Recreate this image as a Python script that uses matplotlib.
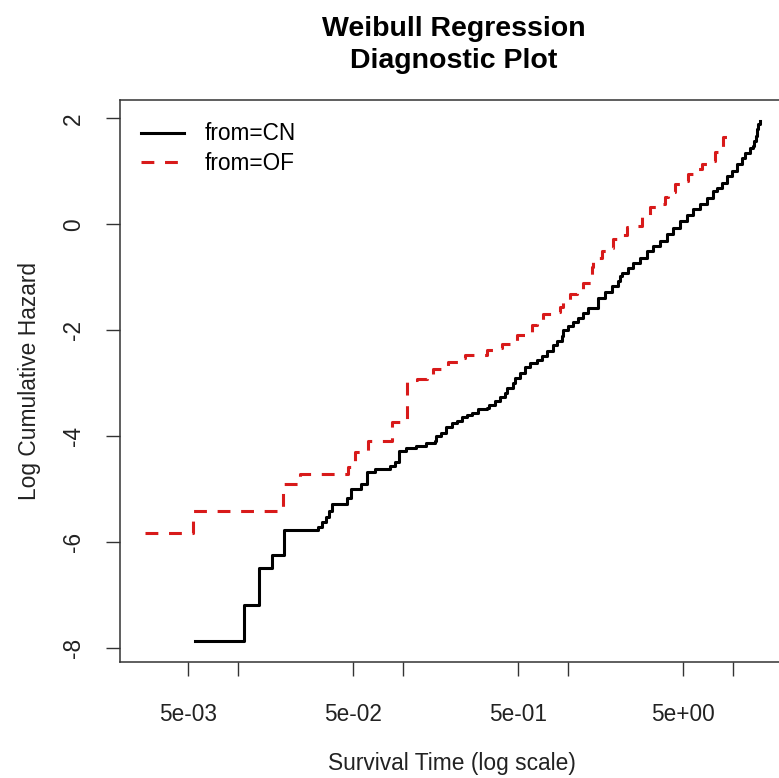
import numpy as np
import matplotlib
matplotlib.use("Agg")
import matplotlib.pyplot as plt
from matplotlib.ticker import NullLocator

plt.rcParams['font.family'] = ['Liberation Sans', 'DejaVu Sans']

# ------------------------------------------------------------
# Data (step points, where='post')
# ------------------------------------------------------------
cn_time = [0.005461, 0.010830, 0.013408, 0.016167, 0.018941, 0.030455, 0.032208,
           0.034061, 0.035517, 0.037038, 0.046111, 0.048760, 0.056093, 0.060981,
           0.067530, 0.083275, 0.089305, 0.094429,
           0.10516, 0.12092, 0.13904, 0.15614, 0.15991, 0.17149, 0.18391, 0.19723,
           0.21151, 0.22683, 0.24324, 0.26086, 0.28602, 0.32157, 0.33346, 0.36118,
           0.38726, 0.41532, 0.42889, 0.46651, 0.47753, 0.51215, 0.54925, 0.58890,
           0.64672, 0.69350, 0.74366, 0.81535, 0.85495, 0.91707, 0.93779, 1.0056,
           1.0784, 1.1565, 1.2402, 1.3300,
           1.5295, 1.6798, 1.8443, 2.0223, 2.0712, 2.1209, 2.3254, 2.4941, 2.7384,
           3.0076, 3.2976, 3.6219, 3.9768, 4.3616, 4.7890, 5.2592, 5.7672, 6.3331,
           6.9542, 7.6260, 7.9965, 8.5746, 9.1943, 9.8618, 10.576, 11.340, 11.875,
           12.735, 13.224, 13.467, 13.790, 14.102, 14.300, 14.646]
cn_loghaz = [-7.873, -7.179, -6.478, -6.246, -5.772, -5.716, -5.621,
             -5.526, -5.413, -5.280, -5.167, -4.997, -4.902, -4.669,
             -4.618, -4.561, -4.486, -4.272,
             -4.226, -4.177, -4.132, -4.088, -3.994, -3.942, -3.818, -3.753,
             -3.704, -3.640, -3.596, -3.553, -3.488, -3.469, -3.407, -3.325,
             -3.261, -3.185, -3.091, -2.996, -2.902, -2.807, -2.693, -2.618,
             -2.555, -2.493, -2.398, -2.271, -2.209, -2.114, -1.988, -1.925,
             -1.849, -1.766, -1.671, -1.577,
             -1.388, -1.282, -1.168, -1.073, -0.979, -0.914, -0.820, -0.725, -0.631,
             -0.506, -0.411, -0.316, -0.190, -0.063, 0.062, 0.170, 0.284, 0.378,
             0.505, 0.630, 0.694, 0.789, 0.914, 1.008, 1.135, 1.262, 1.357,
             1.451, 1.481, 1.576, 1.671, 1.798, 1.892, 1.955]

of_time = [0.0027157, 0.0053317, 0.018755, 0.023680, 0.046504, 0.051060, 0.061485,
           0.086474, 0.10604, 0.12144, 0.13965, 0.15188, 0.17219, 0.18730, 0.21537,
           0.23754, 0.32296, 0.36119, 0.39820, 0.44534, 0.49112, 0.54925, 0.60570,
           0.64937, 0.70613, 0.81208, 0.89554, 0.93385, 1.0299, 1.1355, 1.2351,
           1.4004, 1.4200, 1.6104, 1.7511, 1.8779, 2.0712, 2.2841, 2.4831, 2.8171,
           3.1498, 3.4732, 3.8842, 4.0508, 4.4671, 4.7885, 5.3553, 5.9061, 6.5134,
           7.2828, 7.8050, 8.3753, 8.7332, 9.3663]
of_loghaz = [-5.816, -5.413, -4.902, -4.718, -4.574, -4.291, -4.088,
             -3.734, -2.934, -2.915, -2.858, -2.726, -2.669, -2.593, -2.517,
             -2.461, -2.366, -2.328, -2.252, -2.215, -2.082, -2.044, -1.893,
             -1.817, -1.685, -1.647, -1.552, -1.420, -1.306, -1.268, -1.098,
             -0.795, -0.625, -0.511, -0.455, -0.284, -0.208, -0.057, -0.038, 0.132,
             0.321, 0.378, 0.511, 0.605, 0.757, 0.813, 0.946, 1.041, 1.135,
             1.192, 1.362, 1.419, 1.646, 1.760]

x_ticks = [5e-3, 1e-2, 5e-2, 1e-1, 5e-1, 1, 5, 10]
x_tick_labels = ['5e-03', '', '5e-02', '', '5e-01', '', '5e+00', '']
y_ticks = [-8, -6, -4, -2, 0, 2]

# ------------------------------------------------------------
# Figure
# ------------------------------------------------------------
W, H = 779, 778
fig = plt.figure(figsize=(W / 100, H / 100), dpi=100)
ax = fig.add_axes([120 / W, 1 - 662.3 / H, 664.6 / W, 562.3 / H])

ax.plot(cn_time, cn_loghaz, drawstyle='steps-post', color='black', lw=2.2,
        label='from=CN')
ax.plot(of_time, of_loghaz, drawstyle='steps-post', color='#d81a1a', lw=2.2,
        dashes=(4.2, 3.5), label='from=OF')

ax.set_xscale('log')

# R style 4% axis extension
all_t = np.log10(cn_time + of_time)
all_y = np.array(cn_loghaz + of_loghaz)
xpad = 0.04 * (all_t.max() - all_t.min())
ypad = 0.04 * (all_y.max() - all_y.min())
ax.set_xlim(10 ** (all_t.min() - xpad), 10 ** (all_t.max() + xpad))
ax.set_ylim(all_y.min() - ypad, all_y.max() + ypad)

ax.set_xticks(x_ticks)
ax.set_xticklabels(x_tick_labels)
ax.xaxis.set_minor_locator(NullLocator())
ax.set_yticks(y_ticks)
ax.set_yticklabels([str(v) for v in y_ticks], rotation=90, va='center')

ax.tick_params(axis='both', length=10, width=1.0, color='#333333',
               labelsize=16.3, labelcolor='#222222')
ax.tick_params(axis='x', pad=19)
ax.tick_params(axis='y', pad=15)

for sp in ax.spines.values():
    sp.set_linewidth(1.1)
    sp.set_color('#333333')

ax.set_xlabel('Survival Time (log scale)', fontsize=16.4, color='#222222', labelpad=19)
ax.set_ylabel('Log Cumulative Hazard', fontsize=16.4, color='#222222', labelpad=15)

fig.text(454 / W, 1 - 45 / H, 'Weibull Regression\nDiagnostic Plot', ha='center',
         va='center', fontsize=20.5, fontweight='bold', linespacing=1.3)

ax.legend(loc='upper left', bbox_to_anchor=(0.031, 0.96), frameon=False,
          fontsize=16.3, handlelength=1.9, handletextpad=0.95, labelspacing=0.3,
          borderpad=0, borderaxespad=0)

fig.savefig('out.png', dpi=100)
